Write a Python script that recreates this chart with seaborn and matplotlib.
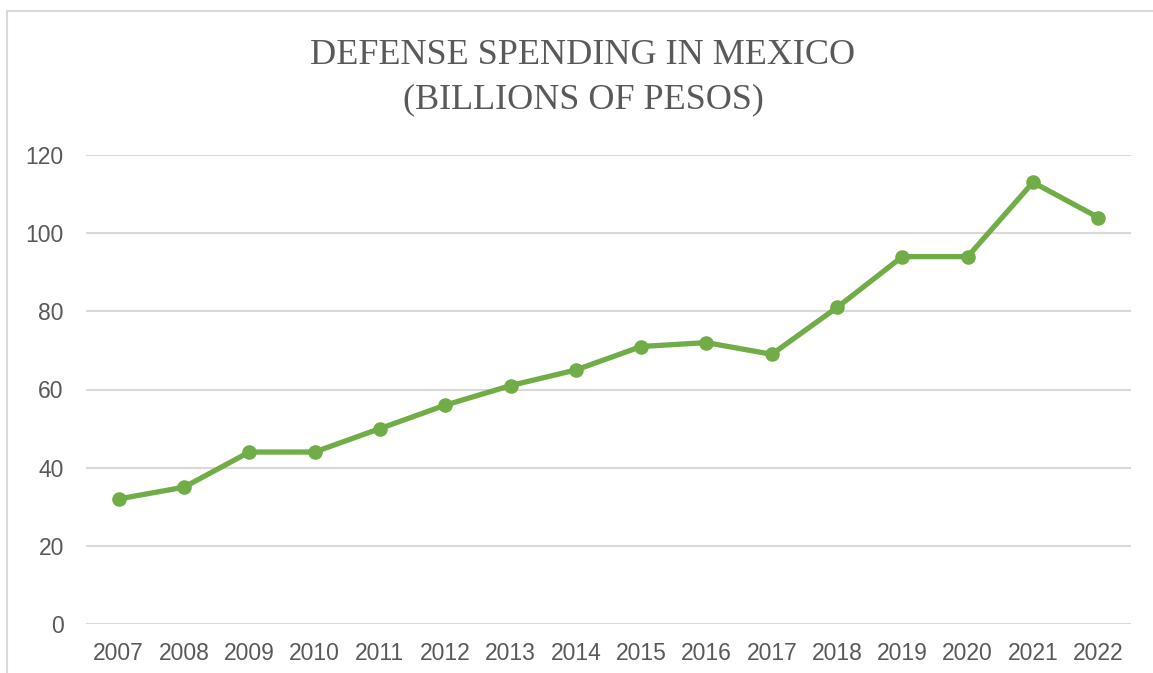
import matplotlib
matplotlib.use("Agg")
import matplotlib.pyplot as plt
import seaborn as sns
import pandas as pd
from matplotlib.patches import Rectangle

years = ["2007", "2008", "2009", "2010", "2011", "2012", "2013", "2014",
         "2015", "2016", "2017", "2018", "2019", "2020", "2021", "2022"]
spending = [32, 35, 44, 44, 50, 56, 61, 65, 71, 72, 69, 81, 94, 94, 113, 104]
y_ticks = [0, 20, 40, 60, 80, 100, 120]

df = pd.DataFrame({"year": years, "spending": spending})
df["pos"] = range(len(years))

sns.set_theme(style="white")
plt.rcParams["font.family"] = ["Liberation Sans", "DejaVu Sans"]

text_color = "#595959"
grid_color = "#D9D9D9"
line_color = "#70AD47"

fig = plt.figure(figsize=(11.53, 6.73), dpi=100)
fig.patch.set_facecolor("white")

# chart frame
fig.patches.append(Rectangle((7 / 1153, -0.1), 1.2, 1 - 11 / 673 + 0.1,
                             transform=fig.transFigure, fill=False,
                             edgecolor=grid_color, linewidth=1.5))

ax = fig.add_axes([86 / 1153, 1 - 624 / 673, (1131 - 86) / 1153, (624 - 155) / 673])
ax.set_facecolor("none")

for v in y_ticks:
    ax.axhline(v, color=grid_color, linewidth=1.5, zorder=0)

sns.lineplot(data=df, x="pos", y="spending", ax=ax, color=line_color,
             linewidth=3.8, marker="o", markersize=10.5, markeredgewidth=0,
             zorder=3, clip_on=False)

ax.set_xlim(-0.5, len(years) - 0.5)
ax.set_ylim(0, 120)
ax.set_xticks(df["pos"])
ax.set_xticklabels(years)
ax.set_yticks(y_ticks)
ax.set_xlabel("")
ax.set_ylabel("")
for s in ax.spines.values():
    s.set_visible(False)
ax.tick_params(axis="both", length=0, labelsize=16.5, labelcolor=text_color)
ax.tick_params(axis="y", pad=16)
ax.tick_params(axis="x", pad=13)

fig.text(583 / 1153, 1 - 55 / 673, "DEFENSE SPENDING IN MEXICO",
         ha="center", va="center", fontsize=26, color=text_color,
         family=["Liberation Serif", "DejaVu Serif"])
fig.text(583 / 1153, 1 - 100 / 673, "(BILLIONS OF PESOS)",
         ha="center", va="center", fontsize=26, color=text_color,
         family=["Liberation Serif", "DejaVu Serif"])

fig.savefig("out.png", dpi=100)
